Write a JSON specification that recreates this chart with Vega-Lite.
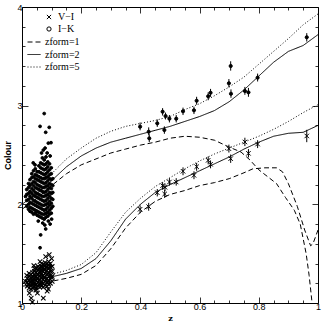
{
"$schema":"https://vega.github.io/schema/vega-lite/v6.json",
"width":296,"height":296,
"autosize":{"type":"none"},
"padding":{"left":22,"top":7,"right":7,"bottom":22},
"config":{"view":{"stroke":"black","strokeWidth":1},"axis":{"grid":false,"domain":false,"tickColor":"black","tickWidth":0.8,"labelColor":"black","titleColor":"black"},
"legend":{"title":null,"symbolSize":16,"symbolFillColor":"black","symbolStrokeColor":"black","symbolStrokeWidth":1,"labelFont":"Liberation Serif","labelFontSize":10,"labelOffset":4}},
"datasets":{
"mod":[
{"m":"zform=2","b":"IK","z":0,"c":2.00},{"m":"zform=2","b":"IK","z":0.05,"c":2.11},{"m":"zform=2","b":"IK","z":0.1,"c":2.24},{"m":"zform=2","b":"IK","z":0.15,"c":2.38},{"m":"zform=2","b":"IK","z":0.2,"c":2.49},{"m":"zform=2","b":"IK","z":0.25,"c":2.57},{"m":"zform=2","b":"IK","z":0.3,"c":2.63},{"m":"zform=2","b":"IK","z":0.35,"c":2.67},{"m":"zform=2","b":"IK","z":0.4,"c":2.71},{"m":"zform=2","b":"IK","z":0.45,"c":2.75},{"m":"zform=2","b":"IK","z":0.5,"c":2.79},{"m":"zform=2","b":"IK","z":0.55,"c":2.84},{"m":"zform=2","b":"IK","z":0.6,"c":2.89},{"m":"zform=2","b":"IK","z":0.65,"c":2.95},{"m":"zform=2","b":"IK","z":0.7,"c":3.04},{"m":"zform=2","b":"IK","z":0.75,"c":3.16},{"m":"zform=2","b":"IK","z":0.8,"c":3.30},{"m":"zform=2","b":"IK","z":0.85,"c":3.44},{"m":"zform=2","b":"IK","z":0.9,"c":3.55},{"m":"zform=2","b":"IK","z":0.95,"c":3.61},{"m":"zform=2","b":"IK","z":1.0,"c":3.72},
{"m":"zform=5","b":"IK","z":0,"c":2.05},{"m":"zform=5","b":"IK","z":0.05,"c":2.17},{"m":"zform=5","b":"IK","z":0.1,"c":2.31},{"m":"zform=5","b":"IK","z":0.15,"c":2.46},{"m":"zform=5","b":"IK","z":0.2,"c":2.57},{"m":"zform=5","b":"IK","z":0.25,"c":2.67},{"m":"zform=5","b":"IK","z":0.3,"c":2.74},{"m":"zform=5","b":"IK","z":0.35,"c":2.79},{"m":"zform=5","b":"IK","z":0.4,"c":2.82},{"m":"zform=5","b":"IK","z":0.45,"c":2.85},{"m":"zform=5","b":"IK","z":0.5,"c":2.89},{"m":"zform=5","b":"IK","z":0.55,"c":2.96},{"m":"zform=5","b":"IK","z":0.6,"c":3.02},{"m":"zform=5","b":"IK","z":0.65,"c":3.10},{"m":"zform=5","b":"IK","z":0.7,"c":3.19},{"m":"zform=5","b":"IK","z":0.75,"c":3.29},{"m":"zform=5","b":"IK","z":0.8,"c":3.42},{"m":"zform=5","b":"IK","z":0.85,"c":3.55},{"m":"zform=5","b":"IK","z":0.9,"c":3.68},{"m":"zform=5","b":"IK","z":0.95,"c":3.82},{"m":"zform=5","b":"IK","z":1.0,"c":3.93},
{"m":"zform=1","b":"IK","z":0,"c":1.95},{"m":"zform=1","b":"IK","z":0.05,"c":2.06},{"m":"zform=1","b":"IK","z":0.1,"c":2.19},{"m":"zform=1","b":"IK","z":0.15,"c":2.31},{"m":"zform=1","b":"IK","z":0.2,"c":2.40},{"m":"zform=1","b":"IK","z":0.25,"c":2.46},{"m":"zform=1","b":"IK","z":0.3,"c":2.52},{"m":"zform=1","b":"IK","z":0.35,"c":2.56},{"m":"zform=1","b":"IK","z":0.4,"c":2.60},{"m":"zform=1","b":"IK","z":0.45,"c":2.63},{"m":"zform=1","b":"IK","z":0.5,"c":2.67},{"m":"zform=1","b":"IK","z":0.55,"c":2.69},{"m":"zform=1","b":"IK","z":0.6,"c":2.68},{"m":"zform=1","b":"IK","z":0.65,"c":2.65},{"m":"zform=1","b":"IK","z":0.7,"c":2.58},{"m":"zform=1","b":"IK","z":0.74,"c":2.53},{"m":"zform=1","b":"IK","z":0.77,"c":2.45},{"m":"zform=1","b":"IK","z":0.8,"c":2.35},{"m":"zform=1","b":"IK","z":0.83,"c":2.28},{"m":"zform=1","b":"IK","z":0.86,"c":2.21},{"m":"zform=1","b":"IK","z":0.89,"c":2.07},{"m":"zform=1","b":"IK","z":0.92,"c":1.94},{"m":"zform=1","b":"IK","z":0.94,"c":1.80},{"m":"zform=1","b":"IK","z":0.96,"c":1.50},{"m":"zform=1","b":"IK","z":0.97,"c":1.28},{"m":"zform=1","b":"IK","z":0.98,"c":1.0},
{"m":"zform=2","b":"VI","z":0,"c":1.21},{"m":"zform=2","b":"VI","z":0.05,"c":1.235},{"m":"zform=2","b":"VI","z":0.1,"c":1.265},{"m":"zform=2","b":"VI","z":0.15,"c":1.30},{"m":"zform=2","b":"VI","z":0.2,"c":1.35},{"m":"zform=2","b":"VI","z":0.25,"c":1.45},{"m":"zform=2","b":"VI","z":0.3,"c":1.63},{"m":"zform=2","b":"VI","z":0.35,"c":1.85},{"m":"zform=2","b":"VI","z":0.4,"c":2.00},{"m":"zform=2","b":"VI","z":0.45,"c":2.12},{"m":"zform=2","b":"VI","z":0.5,"c":2.20},{"m":"zform=2","b":"VI","z":0.55,"c":2.27},{"m":"zform=2","b":"VI","z":0.6,"c":2.34},{"m":"zform=2","b":"VI","z":0.65,"c":2.41},{"m":"zform=2","b":"VI","z":0.7,"c":2.48},{"m":"zform=2","b":"VI","z":0.75,"c":2.56},{"m":"zform=2","b":"VI","z":0.8,"c":2.63},{"m":"zform=2","b":"VI","z":0.85,"c":2.69},{"m":"zform=2","b":"VI","z":0.9,"c":2.72},{"m":"zform=2","b":"VI","z":0.95,"c":2.73},{"m":"zform=2","b":"VI","z":1.0,"c":2.80},
{"m":"zform=5","b":"VI","z":0,"c":1.23},{"m":"zform=5","b":"VI","z":0.05,"c":1.26},{"m":"zform=5","b":"VI","z":0.1,"c":1.29},{"m":"zform=5","b":"VI","z":0.15,"c":1.33},{"m":"zform=5","b":"VI","z":0.2,"c":1.39},{"m":"zform=5","b":"VI","z":0.25,"c":1.51},{"m":"zform=5","b":"VI","z":0.3,"c":1.72},{"m":"zform=5","b":"VI","z":0.35,"c":1.92},{"m":"zform=5","b":"VI","z":0.4,"c":2.06},{"m":"zform=5","b":"VI","z":0.45,"c":2.18},{"m":"zform=5","b":"VI","z":0.5,"c":2.27},{"m":"zform=5","b":"VI","z":0.55,"c":2.36},{"m":"zform=5","b":"VI","z":0.6,"c":2.44},{"m":"zform=5","b":"VI","z":0.65,"c":2.51},{"m":"zform=5","b":"VI","z":0.7,"c":2.57},{"m":"zform=5","b":"VI","z":0.75,"c":2.63},{"m":"zform=5","b":"VI","z":0.8,"c":2.69},{"m":"zform=5","b":"VI","z":0.85,"c":2.76},{"m":"zform=5","b":"VI","z":0.9,"c":2.84},{"m":"zform=5","b":"VI","z":0.95,"c":2.93},{"m":"zform=5","b":"VI","z":1.0,"c":3.01},
{"m":"zform=1","b":"VI","z":0,"c":1.17},{"m":"zform=1","b":"VI","z":0.05,"c":1.19},{"m":"zform=1","b":"VI","z":0.1,"c":1.22},{"m":"zform=1","b":"VI","z":0.15,"c":1.25},{"m":"zform=1","b":"VI","z":0.2,"c":1.29},{"m":"zform=1","b":"VI","z":0.25,"c":1.38},{"m":"zform=1","b":"VI","z":0.3,"c":1.55},{"m":"zform=1","b":"VI","z":0.35,"c":1.76},{"m":"zform=1","b":"VI","z":0.4,"c":1.92},{"m":"zform=1","b":"VI","z":0.45,"c":2.03},{"m":"zform=1","b":"VI","z":0.5,"c":2.10},{"m":"zform=1","b":"VI","z":0.55,"c":2.14},{"m":"zform=1","b":"VI","z":0.6,"c":2.19},{"m":"zform=1","b":"VI","z":0.65,"c":2.22},{"m":"zform=1","b":"VI","z":0.7,"c":2.26},{"m":"zform=1","b":"VI","z":0.75,"c":2.32},{"m":"zform=1","b":"VI","z":0.78,"c":2.36},{"m":"zform=1","b":"VI","z":0.82,"c":2.37},{"m":"zform=1","b":"VI","z":0.86,"c":2.37},{"m":"zform=1","b":"VI","z":0.88,"c":2.33},{"m":"zform=1","b":"VI","z":0.9,"c":2.21},{"m":"zform=1","b":"VI","z":0.93,"c":1.98},{"m":"zform=1","b":"VI","z":0.955,"c":1.74},{"m":"zform=1","b":"VI","z":0.975,"c":1.58},{"m":"zform=1","b":"VI","z":0.983,"c":1.60},{"m":"zform=1","b":"VI","z":1.0,"c":1.74}
],
"hz":[
{"b":"I−K","z":0.399,"c":2.787,"lo":2.75,"hi":2.83},{"b":"I−K","z":0.428,"c":2.736,"lo":2.70,"hi":2.78},{"b":"I−K","z":0.43,"c":2.669,"lo":2.63,"hi":2.71},{"b":"I−K","z":0.457,"c":2.821,"lo":2.785,"hi":2.86},{"b":"I−K","z":0.475,"c":2.939,"lo":2.90,"hi":2.975},{"b":"I−K","z":0.485,"c":2.895,"lo":2.86,"hi":2.93},{"b":"I−K","z":0.481,"c":2.753,"lo":2.715,"hi":2.79},{"b":"I−K","z":0.498,"c":2.868,"lo":2.83,"hi":2.905},{"b":"I−K","z":0.521,"c":2.868,"lo":2.83,"hi":2.905},{"b":"I−K","z":0.544,"c":2.943,"lo":2.905,"hi":2.98},{"b":"I−K","z":0.581,"c":2.953,"lo":2.915,"hi":2.99},{"b":"I−K","z":0.59,"c":3.05,"lo":3.01,"hi":3.09},{"b":"I−K","z":0.629,"c":3.095,"lo":3.055,"hi":3.135},{"b":"I−K","z":0.637,"c":3.131,"lo":3.09,"hi":3.17},{"b":"I−K","z":0.699,"c":3.227,"lo":3.185,"hi":3.27},{"b":"I−K","z":0.705,"c":3.402,"lo":3.355,"hi":3.45},{"b":"I−K","z":0.706,"c":3.121,"lo":3.08,"hi":3.165},{"b":"I−K","z":0.753,"c":3.149,"lo":3.11,"hi":3.19},{"b":"I−K","z":0.765,"c":3.135,"lo":3.09,"hi":3.18},{"b":"I−K","z":0.796,"c":3.284,"lo":3.245,"hi":3.325},{"b":"I−K","z":0.962,"c":3.693,"lo":3.65,"hi":3.735},
{"b":"V−I","z":0.399,"c":1.95,"lo":1.91,"hi":1.99},{"b":"V−I","z":0.428,"c":1.976,"lo":1.935,"hi":2.015},{"b":"V−I","z":0.457,"c":2.118,"lo":2.08,"hi":2.155},{"b":"V−I","z":0.475,"c":2.189,"lo":2.15,"hi":2.225},{"b":"V−I","z":0.483,"c":2.173,"lo":2.135,"hi":2.21},{"b":"V−I","z":0.482,"c":2.105,"lo":2.065,"hi":2.145},{"b":"V−I","z":0.498,"c":2.226,"lo":2.19,"hi":2.265},{"b":"V−I","z":0.521,"c":2.226,"lo":2.19,"hi":2.265},{"b":"V−I","z":0.544,"c":2.335,"lo":2.295,"hi":2.375},{"b":"V−I","z":0.581,"c":2.294,"lo":2.255,"hi":2.335},{"b":"V−I","z":0.59,"c":2.381,"lo":2.34,"hi":2.42},{"b":"V−I","z":0.629,"c":2.446,"lo":2.405,"hi":2.485},{"b":"V−I","z":0.637,"c":2.406,"lo":2.365,"hi":2.445},{"b":"V−I","z":0.699,"c":2.564,"lo":2.525,"hi":2.605},{"b":"V−I","z":0.705,"c":2.463,"lo":2.42,"hi":2.505},{"b":"V−I","z":0.753,"c":2.632,"lo":2.59,"hi":2.675},{"b":"V−I","z":0.765,"c":2.517,"lo":2.475,"hi":2.56},{"b":"V−I","z":0.796,"c":2.611,"lo":2.57,"hi":2.65},{"b":"V−I","z":0.962,"c":2.693,"lo":2.63,"hi":2.755}
],
"lz":[
{"b":"I−K","z":0.016,"c":1.98},{"b":"I−K","z":0.016,"c":2.04},{"b":"I−K","z":0.016,"c":2.10},{"b":"I−K","z":0.016,"c":2.15},
{"b":"I−K","z":0.022,"c":1.95},{"b":"I−K","z":0.022,"c":2.00},{"b":"I−K","z":0.022,"c":2.05},{"b":"I−K","z":0.022,"c":2.11},{"b":"I−K","z":0.022,"c":2.17},{"b":"I−K","z":0.022,"c":2.21},
{"b":"I−K","z":0.027,"c":1.93},{"b":"I−K","z":0.027,"c":1.97},{"b":"I−K","z":0.027,"c":2.02},{"b":"I−K","z":0.027,"c":2.08},{"b":"I−K","z":0.027,"c":2.13},{"b":"I−K","z":0.027,"c":2.19},{"b":"I−K","z":0.027,"c":2.25},
{"b":"I−K","z":0.033,"c":1.92},{"b":"I−K","z":0.033,"c":1.96},{"b":"I−K","z":0.033,"c":2.01},{"b":"I−K","z":0.033,"c":2.06},{"b":"I−K","z":0.033,"c":2.11},{"b":"I−K","z":0.033,"c":2.16},{"b":"I−K","z":0.033,"c":2.21},{"b":"I−K","z":0.033,"c":2.27},{"b":"I−K","z":0.033,"c":2.31},
{"b":"I−K","z":0.039,"c":1.90},{"b":"I−K","z":0.039,"c":1.95},{"b":"I−K","z":0.039,"c":2.00},{"b":"I−K","z":0.039,"c":2.04},{"b":"I−K","z":0.039,"c":2.09},{"b":"I−K","z":0.039,"c":2.14},{"b":"I−K","z":0.039,"c":2.19},{"b":"I−K","z":0.039,"c":2.23},{"b":"I−K","z":0.039,"c":2.28},{"b":"I−K","z":0.039,"c":2.34},
{"b":"I−K","z":0.045,"c":1.91},{"b":"I−K","z":0.045,"c":1.94},{"b":"I−K","z":0.045,"c":1.99},{"b":"I−K","z":0.045,"c":2.03},{"b":"I−K","z":0.045,"c":2.08},{"b":"I−K","z":0.045,"c":2.12},{"b":"I−K","z":0.045,"c":2.17},{"b":"I−K","z":0.045,"c":2.22},{"b":"I−K","z":0.045,"c":2.26},{"b":"I−K","z":0.045,"c":2.30},{"b":"I−K","z":0.045,"c":2.36},
{"b":"I−K","z":0.051,"c":1.89},{"b":"I−K","z":0.051,"c":1.93},{"b":"I−K","z":0.051,"c":1.98},{"b":"I−K","z":0.051,"c":2.02},{"b":"I−K","z":0.051,"c":2.07},{"b":"I−K","z":0.051,"c":2.11},{"b":"I−K","z":0.051,"c":2.16},{"b":"I−K","z":0.051,"c":2.20},{"b":"I−K","z":0.051,"c":2.25},{"b":"I−K","z":0.051,"c":2.29},{"b":"I−K","z":0.051,"c":2.33},
{"b":"I−K","z":0.057,"c":1.88},{"b":"I−K","z":0.057,"c":1.92},{"b":"I−K","z":0.057,"c":1.97},{"b":"I−K","z":0.057,"c":2.01},{"b":"I−K","z":0.057,"c":2.06},{"b":"I−K","z":0.057,"c":2.10},{"b":"I−K","z":0.057,"c":2.15},{"b":"I−K","z":0.057,"c":2.19},{"b":"I−K","z":0.057,"c":2.24},{"b":"I−K","z":0.057,"c":2.28},{"b":"I−K","z":0.057,"c":2.33},{"b":"I−K","z":0.057,"c":2.39},
{"b":"I−K","z":0.063,"c":1.87},{"b":"I−K","z":0.063,"c":1.91},{"b":"I−K","z":0.063,"c":1.96},{"b":"I−K","z":0.063,"c":2.00},{"b":"I−K","z":0.063,"c":2.05},{"b":"I−K","z":0.063,"c":2.09},{"b":"I−K","z":0.063,"c":2.14},{"b":"I−K","z":0.063,"c":2.18},{"b":"I−K","z":0.063,"c":2.23},{"b":"I−K","z":0.063,"c":2.27},{"b":"I−K","z":0.063,"c":2.32},{"b":"I−K","z":0.063,"c":2.37},{"b":"I−K","z":0.063,"c":2.42},
{"b":"I−K","z":0.069,"c":1.86},{"b":"I−K","z":0.069,"c":1.90},{"b":"I−K","z":0.069,"c":1.95},{"b":"I−K","z":0.069,"c":1.99},{"b":"I−K","z":0.069,"c":2.04},{"b":"I−K","z":0.069,"c":2.08},{"b":"I−K","z":0.069,"c":2.13},{"b":"I−K","z":0.069,"c":2.17},{"b":"I−K","z":0.069,"c":2.22},{"b":"I−K","z":0.069,"c":2.26},{"b":"I−K","z":0.069,"c":2.31},{"b":"I−K","z":0.069,"c":2.36},{"b":"I−K","z":0.069,"c":2.41},{"b":"I−K","z":0.069,"c":2.47},
{"b":"I−K","z":0.075,"c":1.85},{"b":"I−K","z":0.075,"c":1.90},{"b":"I−K","z":0.075,"c":1.94},{"b":"I−K","z":0.075,"c":1.99},{"b":"I−K","z":0.075,"c":2.03},{"b":"I−K","z":0.075,"c":2.08},{"b":"I−K","z":0.075,"c":2.12},{"b":"I−K","z":0.075,"c":2.17},{"b":"I−K","z":0.075,"c":2.21},{"b":"I−K","z":0.075,"c":2.26},{"b":"I−K","z":0.075,"c":2.30},{"b":"I−K","z":0.075,"c":2.35},{"b":"I−K","z":0.075,"c":2.40},{"b":"I−K","z":0.075,"c":2.45},
{"b":"I−K","z":0.081,"c":1.87},{"b":"I−K","z":0.081,"c":1.91},{"b":"I−K","z":0.081,"c":1.95},{"b":"I−K","z":0.081,"c":2.00},{"b":"I−K","z":0.081,"c":2.04},{"b":"I−K","z":0.081,"c":2.09},{"b":"I−K","z":0.081,"c":2.13},{"b":"I−K","z":0.081,"c":2.18},{"b":"I−K","z":0.081,"c":2.22},{"b":"I−K","z":0.081,"c":2.27},{"b":"I−K","z":0.081,"c":2.31},{"b":"I−K","z":0.081,"c":2.36},{"b":"I−K","z":0.081,"c":2.41},{"b":"I−K","z":0.081,"c":2.48},
{"b":"I−K","z":0.087,"c":1.88},{"b":"I−K","z":0.087,"c":1.92},{"b":"I−K","z":0.087,"c":1.97},{"b":"I−K","z":0.087,"c":2.01},{"b":"I−K","z":0.087,"c":2.06},{"b":"I−K","z":0.087,"c":2.10},{"b":"I−K","z":0.087,"c":2.15},{"b":"I−K","z":0.087,"c":2.19},{"b":"I−K","z":0.087,"c":2.24},{"b":"I−K","z":0.087,"c":2.28},{"b":"I−K","z":0.087,"c":2.33},{"b":"I−K","z":0.087,"c":2.38},{"b":"I−K","z":0.087,"c":2.43},
{"b":"I−K","z":0.093,"c":1.90},{"b":"I−K","z":0.093,"c":1.94},{"b":"I−K","z":0.093,"c":1.99},{"b":"I−K","z":0.093,"c":2.03},{"b":"I−K","z":0.093,"c":2.08},{"b":"I−K","z":0.093,"c":2.12},{"b":"I−K","z":0.093,"c":2.17},{"b":"I−K","z":0.093,"c":2.21},{"b":"I−K","z":0.093,"c":2.26},{"b":"I−K","z":0.093,"c":2.30},{"b":"I−K","z":0.093,"c":2.35},{"b":"I−K","z":0.093,"c":2.41},
{"b":"I−K","z":0.099,"c":1.91},{"b":"I−K","z":0.099,"c":1.96},{"b":"I−K","z":0.099,"c":2.01},{"b":"I−K","z":0.099,"c":2.06},{"b":"I−K","z":0.099,"c":2.11},{"b":"I−K","z":0.099,"c":2.16},{"b":"I−K","z":0.099,"c":2.20},{"b":"I−K","z":0.099,"c":2.25},{"b":"I−K","z":0.099,"c":2.31},{"b":"I−K","z":0.099,"c":2.37},
{"b":"I−K","z":0.104,"c":1.98},{"b":"I−K","z":0.104,"c":2.05},{"b":"I−K","z":0.104,"c":2.12},{"b":"I−K","z":0.104,"c":2.19},{"b":"I−K","z":0.104,"c":2.26},
{"b":"I−K","z":0.012,"c":2.08},{"b":"I−K","z":0.061,"c":2.79},{"b":"I−K","z":0.080,"c":2.73},{"b":"I−K","z":0.092,"c":2.78},{"b":"I−K","z":0.075,"c":2.92},{"b":"I−K","z":0.089,"c":2.62},{"b":"I−K","z":0.098,"c":2.625},{"b":"I−K","z":0.066,"c":2.52},{"b":"I−K","z":0.078,"c":2.57},{"b":"I−K","z":0.072,"c":2.55},{"b":"I−K","z":0.044,"c":2.40},{"b":"I−K","z":0.038,"c":2.42},{"b":"I−K","z":0.085,"c":2.52},{"b":"I−K","z":0.095,"c":2.49},{"b":"I−K","z":0.063,"c":1.69},{"b":"I−K","z":0.061,"c":1.56},{"b":"I−K","z":0.080,"c":1.75},{"b":"I−K","z":0.089,"c":1.83},{"b":"I−K","z":0.095,"c":1.80},{"b":"I−K","z":0.070,"c":1.81},{"b":"I−K","z":0.100,"c":1.85},{"b":"I−K","z":0.055,"c":1.83},{"b":"I−K","z":0.077,"c":1.79},
{"b":"V−I","z":0.018,"c":1.17},{"b":"V−I","z":0.018,"c":1.21},{"b":"V−I","z":0.018,"c":1.25},
{"b":"V−I","z":0.024,"c":1.15},{"b":"V−I","z":0.024,"c":1.19},{"b":"V−I","z":0.024,"c":1.23},{"b":"V−I","z":0.024,"c":1.27},{"b":"V−I","z":0.024,"c":1.30},
{"b":"V−I","z":0.030,"c":1.14},{"b":"V−I","z":0.030,"c":1.18},{"b":"V−I","z":0.030,"c":1.22},{"b":"V−I","z":0.030,"c":1.26},{"b":"V−I","z":0.030,"c":1.29},
{"b":"V−I","z":0.036,"c":1.15},{"b":"V−I","z":0.036,"c":1.19},{"b":"V−I","z":0.036,"c":1.23},{"b":"V−I","z":0.036,"c":1.27},{"b":"V−I","z":0.036,"c":1.31},
{"b":"V−I","z":0.042,"c":1.16},{"b":"V−I","z":0.042,"c":1.20},{"b":"V−I","z":0.042,"c":1.24},{"b":"V−I","z":0.042,"c":1.28},{"b":"V−I","z":0.042,"c":1.32},{"b":"V−I","z":0.042,"c":1.35},
{"b":"V−I","z":0.048,"c":1.15},{"b":"V−I","z":0.048,"c":1.19},{"b":"V−I","z":0.048,"c":1.23},{"b":"V−I","z":0.048,"c":1.27},{"b":"V−I","z":0.048,"c":1.31},{"b":"V−I","z":0.048,"c":1.35},
{"b":"V−I","z":0.054,"c":1.17},{"b":"V−I","z":0.054,"c":1.21},{"b":"V−I","z":0.054,"c":1.25},{"b":"V−I","z":0.054,"c":1.29},{"b":"V−I","z":0.054,"c":1.33},{"b":"V−I","z":0.054,"c":1.37},
{"b":"V−I","z":0.060,"c":1.16},{"b":"V−I","z":0.060,"c":1.20},{"b":"V−I","z":0.060,"c":1.24},{"b":"V−I","z":0.060,"c":1.28},{"b":"V−I","z":0.060,"c":1.32},{"b":"V−I","z":0.060,"c":1.36},
{"b":"V−I","z":0.066,"c":1.17},{"b":"V−I","z":0.066,"c":1.21},{"b":"V−I","z":0.066,"c":1.25},{"b":"V−I","z":0.066,"c":1.29},{"b":"V−I","z":0.066,"c":1.33},{"b":"V−I","z":0.066,"c":1.37},{"b":"V−I","z":0.066,"c":1.40},
{"b":"V−I","z":0.072,"c":1.16},{"b":"V−I","z":0.072,"c":1.20},{"b":"V−I","z":0.072,"c":1.24},{"b":"V−I","z":0.072,"c":1.28},{"b":"V−I","z":0.072,"c":1.32},{"b":"V−I","z":0.072,"c":1.36},{"b":"V−I","z":0.072,"c":1.39},
{"b":"V−I","z":0.078,"c":1.18},{"b":"V−I","z":0.078,"c":1.22},{"b":"V−I","z":0.078,"c":1.26},{"b":"V−I","z":0.078,"c":1.30},{"b":"V−I","z":0.078,"c":1.34},{"b":"V−I","z":0.078,"c":1.38},{"b":"V−I","z":0.078,"c":1.41},
{"b":"V−I","z":0.084,"c":1.17},{"b":"V−I","z":0.084,"c":1.21},{"b":"V−I","z":0.084,"c":1.25},{"b":"V−I","z":0.084,"c":1.29},{"b":"V−I","z":0.084,"c":1.33},{"b":"V−I","z":0.084,"c":1.37},{"b":"V−I","z":0.084,"c":1.40},
{"b":"V−I","z":0.090,"c":1.19},{"b":"V−I","z":0.090,"c":1.23},{"b":"V−I","z":0.090,"c":1.27},{"b":"V−I","z":0.090,"c":1.31},{"b":"V−I","z":0.090,"c":1.35},{"b":"V−I","z":0.090,"c":1.39},{"b":"V−I","z":0.090,"c":1.42},
{"b":"V−I","z":0.096,"c":1.20},{"b":"V−I","z":0.096,"c":1.24},{"b":"V−I","z":0.096,"c":1.28},{"b":"V−I","z":0.096,"c":1.32},{"b":"V−I","z":0.096,"c":1.36},{"b":"V−I","z":0.096,"c":1.40},
{"b":"V−I","z":0.102,"c":1.22},{"b":"V−I","z":0.102,"c":1.27},{"b":"V−I","z":0.102,"c":1.32},{"b":"V−I","z":0.102,"c":1.37},
{"b":"V−I","z":0.021,"c":1.19},{"b":"V−I","z":0.027,"c":1.21},{"b":"V−I","z":0.033,"c":1.25},{"b":"V−I","z":0.039,"c":1.22},{"b":"V−I","z":0.045,"c":1.26},{"b":"V−I","z":0.051,"c":1.29},{"b":"V−I","z":0.057,"c":1.23},{"b":"V−I","z":0.063,"c":1.31},{"b":"V−I","z":0.069,"c":1.27},{"b":"V−I","z":0.075,"c":1.34},{"b":"V−I","z":0.081,"c":1.24},{"b":"V−I","z":0.087,"c":1.30},{"b":"V−I","z":0.093,"c":1.37},{"b":"V−I","z":0.099,"c":1.26},{"b":"V−I","z":0.045,"c":1.18},{"b":"V−I","z":0.063,"c":1.19},{"b":"V−I","z":0.081,"c":1.36},{"b":"V−I","z":0.069,"c":1.35},{"b":"V−I","z":0.057,"c":1.34},{"b":"V−I","z":0.087,"c":1.21},
{"b":"V−I","z":0.092,"c":1.49},{"b":"V−I","z":0.061,"c":1.42},{"b":"V−I","z":0.080,"c":1.47},{"b":"V−I","z":0.025,"c":1.10},{"b":"V−I","z":0.031,"c":1.05},{"b":"V−I","z":0.035,"c":1.01},{"b":"V−I","z":0.072,"c":1.05},{"b":"V−I","z":0.047,"c":1.13},{"b":"V−I","z":0.052,"c":1.10},{"b":"V−I","z":0.085,"c":1.12},{"b":"V−I","z":0.089,"c":1.14},{"b":"V−I","z":0.016,"c":1.28},{"b":"V−I","z":0.040,"c":1.38},{"b":"V−I","z":0.100,"c":1.45},{"b":"V−I","z":0.012,"c":1.22}
]
},
"resolve":{"axis":{"x":"independent","y":"independent"},"legend":{"shape":"independent"}},
"layer":[
{"data":{"name":"mod"},
 "mark":{"type":"line","strokeWidth":1,"color":"black","clip":true},
 "encoding":{
  "x":{"field":"z","type":"quantitative","scale":{"domain":[0,1],"nice":false,"zero":false},
   "axis":{"orient":"bottom","values":[0,0.2,0.4,0.6,0.8,1],"tickSize":-6,"labelPadding":5,"format":"~g","labelFlush":false,"labelFont":"Liberation Sans","labelFontSize":9,"title":"z","titleFont":"DejaVu Serif","titleFontWeight":"bold","titleFontSize":8,"titlePadding":3}},
  "y":{"field":"c","type":"quantitative","scale":{"domain":[1,4],"nice":false,"zero":false},
   "axis":{"orient":"left","values":[1,2,3,4],"tickSize":-6,"labelPadding":6,"labelFont":"Liberation Sans","labelFontSize":9,"labelFlush":false,"title":"Colour","titleFont":"Liberation Sans","titleFontWeight":"bold","titleFontSize":9,"titlePadding":4}},
  "detail":{"field":"b"},
  "strokeDash":{"field":"m","type":"nominal","scale":{"domain":["zform=1","zform=2","zform=5"],"range":[[5,3],[1,0],[1,2]]},
   "legend":{"orient":"none","legendX":5,"legendY":28,"symbolType":"stroke","symbolSize":169,"rowPadding":0.5}}
 }},
{"data":{"name":"lz"},
 "transform":[{"filter":"datum.b === 'I−K'"}],
 "mark":{"type":"point","filled":false,"fill":"black","stroke":"black","strokeWidth":1,"opacity":1,"size":8},
 "encoding":{
  "x":{"field":"z","type":"quantitative","scale":{"domain":[0,1],"nice":false,"zero":false},
   "axis":{"orient":"bottom","values":[0.05,0.1,0.15,0.25,0.3,0.35,0.45,0.5,0.55,0.65,0.7,0.75,0.85,0.9,0.95],"tickSize":-3,"labels":false,"title":null}},
  "y":{"field":"c","type":"quantitative","scale":{"domain":[1,4],"nice":false,"zero":false},
   "axis":{"orient":"left","values":[1.2,1.4,1.6,1.8,2.2,2.4,2.6,2.8,3.2,3.4,3.6,3.8],"tickSize":-3,"labels":false,"title":null}},
  "shape":{"field":"b","type":"nominal","scale":{"domain":["V−I","I−K"],"range":["M-1,-1L1,1M1,-1L-1,1","circle"]},"legend":null}
 }},
{"data":{"name":"lz"},
 "transform":[{"filter":"datum.b === 'V−I'"}],
 "mark":{"type":"point","filled":false,"stroke":"black","strokeWidth":1.1,"opacity":1,"size":20},
 "encoding":{
  "x":{"field":"z","type":"quantitative","scale":{"domain":[0,1],"nice":false,"zero":false},"axis":null},
  "y":{"field":"c","type":"quantitative","scale":{"domain":[1,4],"nice":false,"zero":false},"axis":null},
  "shape":{"field":"b","type":"nominal","scale":{"domain":["V−I","I−K"],"range":["M-1,-1L1,1M1,-1L-1,1","circle"]},
   "legend":{"orient":"none","legendX":22,"legendY":5,"rowPadding":2,"symbolSize":18,"symbolStrokeColor":"black","symbolFillColor":"black","symbolStrokeWidth":1,"encode":{"symbols":{"update":{"fill":{"value":"black"},"stroke":{"value":"black"},"strokeWidth":{"value":1},"opacity":{"value":1}}}}}}
 }},
{"data":{"name":"hz"},
 "mark":{"type":"rule","color":"black","strokeWidth":1},
 "encoding":{
  "x":{"field":"z","type":"quantitative","scale":{"domain":[0,1],"nice":false,"zero":false},
   "axis":{"orient":"top","values":[0,0.2,0.4,0.6,0.8,1],"tickSize":-6,"labels":false,"title":null}},
  "y":{"field":"lo","type":"quantitative","scale":{"domain":[1,4],"nice":false,"zero":false},
   "axis":{"orient":"right","values":[1,2,3,4],"tickSize":-6,"labels":false,"title":null}},
  "y2":{"field":"hi"}
 }},
{"data":{"name":"hz"},
 "transform":[{"filter":"datum.b === 'I−K'"}],
 "mark":{"type":"point","filled":false,"fill":"black","stroke":"black","strokeWidth":1,"opacity":1,"size":10},
 "encoding":{
  "x":{"field":"z","type":"quantitative","scale":{"domain":[0,1],"nice":false,"zero":false},
   "axis":{"orient":"top","values":[0.05,0.1,0.15,0.25,0.3,0.35,0.45,0.5,0.55,0.65,0.7,0.75,0.85,0.9,0.95],"tickSize":-3,"labels":false,"title":null}},
  "y":{"field":"c","type":"quantitative","scale":{"domain":[1,4],"nice":false,"zero":false},
   "axis":{"orient":"right","values":[1.2,1.4,1.6,1.8,2.2,2.4,2.6,2.8,3.2,3.4,3.6,3.8],"tickSize":-3,"labels":false,"title":null}},
  "shape":{"field":"b","type":"nominal","scale":{"domain":["V−I","I−K"],"range":["M-1,-1L1,1M1,-1L-1,1","circle"]},"legend":null}
 }},
{"data":{"name":"hz"},
 "transform":[{"filter":"datum.b === 'V−I'"}],
 "mark":{"type":"point","filled":false,"stroke":"black","strokeWidth":1,"opacity":1,"size":20},
 "encoding":{
  "x":{"field":"z","type":"quantitative","scale":{"domain":[0,1],"nice":false,"zero":false},"axis":null},
  "y":{"field":"c","type":"quantitative","scale":{"domain":[1,4],"nice":false,"zero":false},"axis":null},
  "shape":{"field":"b","type":"nominal","scale":{"domain":["V−I","I−K"],"range":["M-1,-1L1,1M1,-1L-1,1","circle"]},"legend":null}
 }}
]
}
